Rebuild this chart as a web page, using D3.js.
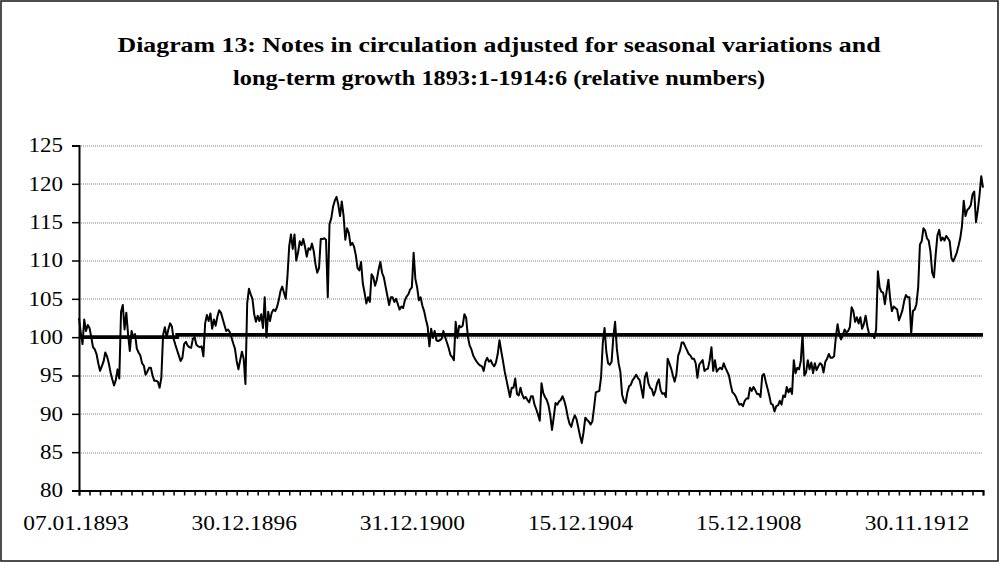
<!DOCTYPE html>
<html>
<head>
<meta charset="utf-8">
<script src="https://cdn.jsdelivr.net/npm/d3@7"></script>
<style>
  html, body { margin: 0; padding: 0; background: #fff; }
  svg { display: block; font-family: "Liberation Serif", "Times New Roman", serif; }
</style>
</head>
<body>
<svg width="1000" height="563"></svg>
<script>
const titleLines = [
  'Diagram 13: Notes in circulation adjusted for seasonal variations and',
  'long-term growth 1893:1-1914:6 (relative numbers)'
];
const titleWidths = [763, 532];

// x axis: one observation every half month, ticks every 6, a date label every 96
const tickLabels = ['07.01.1893', '30.12.1896', '31.12.1900', '15.12.1904', '15.12.1908', '30.11.1912'];
const tickEvery = 6;
const labelEvery = 96;
const yTicks = [80, 85, 90, 95, 100, 105, 110, 115, 120, 125];

// the heavy reference line (steps slightly up in 1895)
const baseline = [
  { i: 0, v: 100.0 },
  { i: 56, v: 100.3 },
  { i: 516, v: 100.3 }
];

// relative notes in circulation, one row per year
const notes1893to1898 = [
  102.5, 100.6, 99.1, 102.3, 100.8, 101.6, 101.2, 100.0, 98.7, 98.4, 97.8, 96.6, 95.6, 96.2, 96.8, 98.0, 97.5, 96.6, 95.4, 94.5, 93.7, 94.4, 95.8, 94.6,
  103.3, 104.2, 101.0, 103.2, 100.4, 98.2, 100.8, 100.0, 100.4, 98.5, 98.0, 97.6, 96.6, 96.3, 95.1, 95.5, 96.0, 96.0, 95.0, 94.3, 94.3, 94.2, 93.4, 94.7,
  100.3, 101.3, 100.0, 101.0, 101.8, 101.4, 99.8, 99.0, 98.3, 97.6, 96.9, 97.3, 99.1, 99.4, 98.9, 98.7, 98.6, 99.8, 100.0, 99.0, 98.8, 98.7, 98.8, 97.5,
  101.8, 102.9, 102.1, 103.1, 101.1, 102.3, 101.5, 102.7, 103.5, 103.2, 102.4, 101.6, 100.8, 101.0, 100.7, 100.0, 99.2, 98.5, 96.9, 95.8, 97.0, 98.1, 97.2, 93.9,
  104.4, 106.3, 105.6, 105.0, 103.0, 102.0, 102.8, 102.1, 103.0, 101.2, 105.2, 100.0, 103.3, 102.1, 103.2, 103.6, 103.4, 103.9, 104.8, 106.0, 106.6, 105.8, 105.0, 108.0,
  111.9, 113.4, 111.5, 113.4, 110.0, 111.0, 112.5, 112.0, 112.8, 111.8, 110.5, 111.6, 111.4, 112.2, 111.2, 109.5, 108.4, 109.0, 112.8, 112.8, 112.9, 112.7, 105.2, 114.8
];
const notes1899to1904 = [
  115.5, 117.0, 117.8, 118.3, 117.3, 115.8, 117.7, 115.9, 112.7, 114.2, 113.6, 112.0, 112.3, 111.8, 110.7, 109.0, 108.7, 109.8, 107.0, 105.8, 104.4, 105.2, 104.6, 108.2,
  107.8, 106.7, 107.5, 108.8, 109.8, 108.4, 107.8, 106.6, 105.4, 104.2, 105.2, 105.2, 104.6, 105.0, 104.3, 103.6, 104.0, 103.8, 104.8, 105.3, 105.6, 106.2, 106.5, 111.0,
  107.6, 106.5, 104.8, 105.2, 104.1, 103.4, 102.3, 101.4, 98.8, 101.1, 99.9, 100.8, 99.6, 99.5, 99.6, 99.8, 100.8, 100.0, 99.3, 98.6, 97.7, 97.4, 97.0, 102.0,
  99.9, 101.5, 101.3, 101.5, 103.0, 102.5, 100.0, 98.9, 98.4, 97.6, 97.2, 96.8, 96.5, 96.3, 96.2, 95.6, 96.8, 97.3, 96.8, 97.0, 96.5, 96.2, 96.7, 97.8,
  99.6, 98.2, 96.9, 95.5, 94.4, 93.3, 92.2, 93.4, 93.4, 94.6, 92.6, 92.4, 93.4, 92.5, 92.0, 92.2, 91.8, 91.5, 92.3, 92.3, 91.2, 90.6, 89.9, 89.1,
  94.0, 92.7, 92.2, 91.8, 91.1, 89.8, 87.9, 89.6, 91.4, 91.2, 91.6, 91.8, 92.3, 91.7, 90.8, 89.6, 88.7, 88.3, 89.2, 89.8, 89.3, 88.2, 87.1, 86.2
];
const notes1905to1910 = [
  87.6, 89.5, 89.2, 89.0, 88.6, 89.0, 90.8, 92.8, 92.9, 93.0, 94.8, 99.3, 101.2, 98.1, 96.6, 96.4, 96.8, 100.0, 102.0, 98.5, 96.6, 95.5, 92.5, 91.7,
  91.4, 92.8, 93.6, 93.8, 94.4, 94.7, 95.1, 94.7, 94.4, 93.3, 92.1, 94.8, 95.4, 94.0, 93.4, 93.2, 92.4, 93.0, 94.0, 94.5, 93.1, 92.6, 92.7, 92.2,
  97.2, 96.6, 95.9, 95.0, 94.2, 95.2, 97.6, 98.2, 99.3, 99.3, 98.8, 98.3, 97.8, 97.6, 97.2, 97.2, 96.6, 94.7, 96.4, 96.7, 97.0, 95.6, 95.8, 95.9,
  97.0, 98.7, 95.6, 97.0, 95.5, 95.8, 96.0, 95.8, 96.6, 96.0, 95.5, 95.0, 93.8, 92.8, 92.6, 92.2, 91.6, 91.2, 91.3, 91.0, 91.7, 92.0, 92.0, 93.4,
  93.0, 93.5, 93.1, 92.6, 92.6, 92.2, 95.0, 95.2, 94.2, 93.3, 92.4, 91.3, 91.2, 90.3, 91.0, 91.1, 91.7, 91.2, 92.4, 92.2, 93.5, 92.8, 93.3, 92.6,
  97.0, 95.3, 96.0, 95.8, 96.9, 100.4, 95.0, 95.4, 97.0, 95.8, 96.7, 95.3, 96.6, 95.7, 96.2, 96.6, 96.4, 95.4, 96.8, 97.2, 97.8, 97.3, 97.3, 97.5
];
const notes1911to1914 = [
  100.0, 101.7, 100.3, 99.7, 100.3, 101.0, 100.6, 100.8, 101.3, 103.9, 103.4, 102.0, 102.6, 101.8, 102.6, 101.1, 101.7, 102.8, 101.4, 100.4, 100.2, 100.3, 99.9, 101.0,
  108.6, 106.5, 105.9, 105.8, 104.3, 106.0, 107.5, 105.0, 103.4, 104.0, 103.8, 103.6, 102.2, 102.8, 103.5, 104.7, 105.5, 105.2, 105.2, 100.4, 103.4, 103.6, 104.3, 106.5,
  112.1, 112.5, 114.2, 113.9, 112.9, 112.6, 111.2, 108.4, 107.8, 110.8, 113.3, 114.0, 112.6, 113.0, 112.6, 113.2, 112.9, 112.5, 110.3, 109.9, 110.4, 111.0, 111.9, 112.9,
  114.5, 117.8, 115.8, 116.6, 116.8, 117.2, 118.6, 119.0, 115.0, 116.5, 118.5, 121.0, 119.5
];

const notes = [].concat(notes1893to1898, notes1899to1904, notes1905to1910, notes1911to1914);

// Times-like text in the original is wider than Liberation Serif, so stretch it a little
const stretch = (sel, k) => sel.each(function () {
  const w = this.getComputedTextLength();
  d3.select(this).attr('textLength', w * k).attr('lengthAdjust', 'spacingAndGlyphs');
});

const plot = () => {
  const W = 1000, H = 563;
  const margin = { top: 145.5, right: 17, bottom: 72.5, left: 79 };
  const width = W - margin.left - margin.right;
  const height = H - margin.top - margin.bottom;

  const svg = d3.select('svg');

  // outer frame
  svg.append('rect')
    .attr('x', 1).attr('y', 1)
    .attr('width', W - 3).attr('height', H - 3)
    .attr('fill', '#fff')
    .attr('stroke', '#222')
    .attr('stroke-width', 1.6);

  // title
  svg.append('g')
    .selectAll('text')
    .data(titleLines)
    .enter()
    .append('text')
    .attr('x', 499)
    .attr('y', (d, i) => 52 + i * 33)
    .attr('text-anchor', 'middle')
    .attr('textLength', (d, i) => titleWidths[i])
    .attr('lengthAdjust', 'spacingAndGlyphs')
    .style('font-size', '21px')
    .style('font-weight', 'bold')
    .text(d => d);

  const g = svg.append('g')
    .attr('transform', `translate(${margin.left}, ${margin.top})`);

  const x = d3.scaleLinear().domain([0, notes.length - 1]).range([0, width]);
  const y = d3.scaleLinear().domain([80, 125]).range([height, 0]);

  // dotted gridlines
  g.append('g')
    .selectAll('line')
    .data(yTicks.slice(1))
    .enter()
    .append('line')
    .attr('x1', 0).attr('x2', width)
    .attr('y1', d => Math.round(y(d)) + 0.5)
    .attr('y2', d => Math.round(y(d)) + 0.5)
    .attr('stroke', '#808080')
    .attr('stroke-width', 1)
    .attr('stroke-dasharray', '1,1');

  // y axis
  const yAxis = g.append('g')
    .call(d3.axisLeft(y).tickValues(yTicks).tickSize(7).tickPadding(9).tickFormat(d3.format('d')));
  yAxis.select('.domain').attr('stroke', '#000').attr('stroke-width', 2);
  yAxis.selectAll('.tick line').attr('stroke', '#000').attr('stroke-width', 1.5);
  yAxis.selectAll('.tick text')
    .attr('fill', '#000')
    .style('font-family', '"Liberation Serif", "Times New Roman", serif')
    .style('font-size', '20px')
    .call(stretch, 1.15);

  // x axis (category ticks, sparse date labels)
  const xTickValues = d3.range(0, notes.length, tickEvery);
  const xAxis = g.append('g')
    .attr('transform', `translate(0, ${height})`)
    .call(d3.axisBottom(x).tickValues(xTickValues).tickSize(5).tickFormat(''));
  xAxis.select('.domain').attr('stroke', '#000').attr('stroke-width', 2);
  xAxis.selectAll('.tick line').attr('stroke', '#000').attr('stroke-width', 1.5);

  g.append('g')
    .selectAll('text')
    .data(tickLabels)
    .enter()
    .append('text')
    .attr('x', (d, i) => x(i * labelEvery) - 3)
    .attr('y', height + 39)
    .attr('text-anchor', 'middle')
    .style('font-size', '20px')
    .text(d => d)
    .call(stretch, 1.17);

  // heavy reference line at 100
  g.append('path')
    .datum(baseline)
    .attr('fill', 'none')
    .attr('stroke', '#000')
    .attr('stroke-width', 3.6)
    .attr('d', d3.line().x(d => x(d.i)).y(d => y(d.v)).curve(d3.curveStepAfter));

  // series
  g.append('path')
    .datum(notes)
    .attr('fill', 'none')
    .attr('stroke', '#000')
    .attr('stroke-width', 2)
    .attr('stroke-linejoin', 'round')
    .attr('d', d3.line().x((d, i) => x(i)).y(d => y(d)));
};

plot();
</script>
</body>
</html>
